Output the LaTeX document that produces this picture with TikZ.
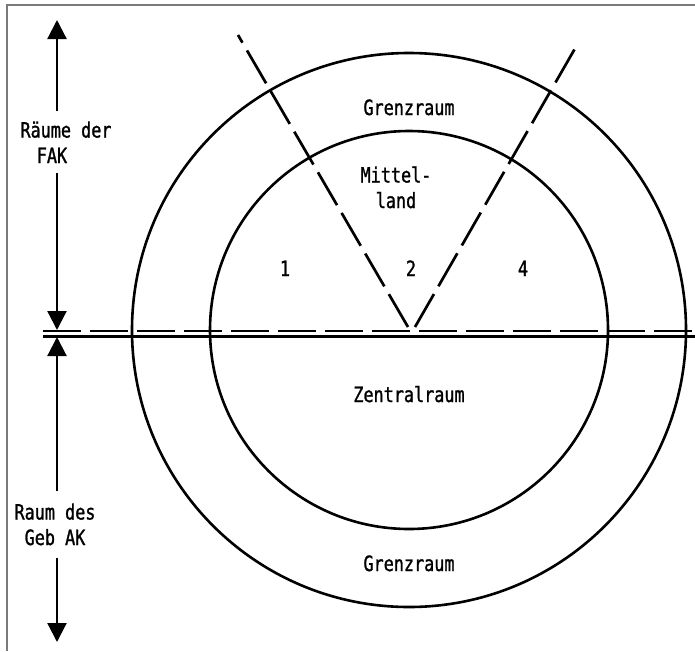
\documentclass[tikz,border=0pt]{standalone}
\usepackage{fontspec}
\setmainfont{DejaVu Sans Mono}[FakeStretch=0.8,FakeBold=1.2]
\usetikzlibrary{arrows.meta}
\definecolor{rahmen}{HTML}{7A7A7A}
\tikzset{kreis/.style={line width=2.6pt},
  grenze/.style={line width=2.7pt,dash pattern=on 38pt off 9pt},
  pfeil/.style={line width=2.2pt,-{Triangle[length=19pt,width=19pt]}},
  schrift/.style={font=\fontsize{21}{25.5}\selectfont,align=center,inner sep=0pt}}

\begin{document}
\begin{tikzpicture}[x=1pt,y=-1pt]
\useasboundingbox (0,0) rectangle (695,651);
\draw[rahmen,line width=2pt] (7,651) -- (7,5) -- (695,5);
% Kreise
\draw[kreis] (409,330) circle[radius=277pt];
\draw[kreis] (409,330) circle[radius=199pt];
% Trennlinien
\draw[grenze] (43,331) -- (695,331);
\draw[kreis,line width=2.7pt] (43,336.5) -- (695,336.5);
\draw[grenze] (408,327) -- (238,35);
\draw[grenze] (415,327) -- (577,45);
% Beschriftung
\node[schrift,anchor=base] (grenzoben) at (409,115) {Grenzraum};
\node[schrift,anchor=base] (mittelland) at (396,208) {Mittel-\\land};
\node[schrift,anchor=base] (feld1) at (285,276) {1};
\node[schrift,anchor=base] (feld2) at (411,276) {2};
\node[schrift,anchor=base] (feld4) at (523,276) {4};
\node[schrift,anchor=base] (zentral) at (409,402) {Zentralraum};
\node[schrift,anchor=base] (grenzunten) at (409,571) {Grenzraum};
% Pfeile links
\coordinate (fakoben) at (57,20);
\coordinate (fakunten) at (57,330);
\coordinate (akoben) at (57,337);
\coordinate (akunten) at (57,642);
\node[schrift,anchor=base,inner ysep=10pt] (fak) at (66,163) {Räume der\\\hspace*{-28pt}FAK};
\node[schrift,anchor=base,inner ysep=12pt] (gebak) at (55,545) {Raum des\\Geb AK};
\draw[pfeil] (fakoben |- fak.north) -- (fakoben);
\draw[pfeil] (fakunten |- fak.south) -- (fakunten);
\draw[pfeil] (akoben |- gebak.north) -- (akoben);
\draw[pfeil] (akunten |- gebak.south) -- (akunten);
\end{tikzpicture}
\end{document}
